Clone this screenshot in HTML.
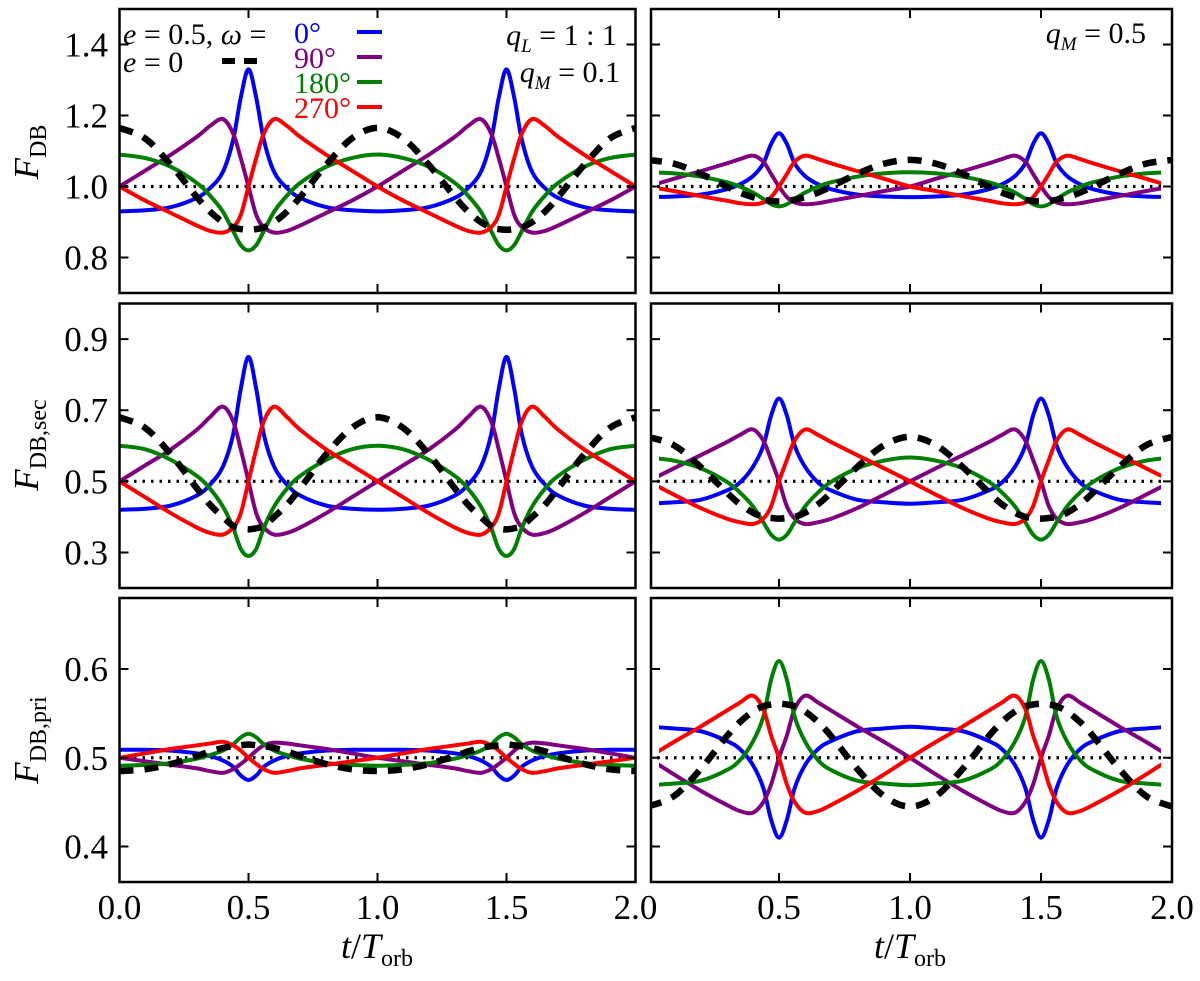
<!DOCTYPE html>
<html><head><meta charset="utf-8">
<style>
html,body{margin:0;padding:0;background:#fff;}
svg, svg text{font-family:"Liberation Serif","DejaVu Serif",serif;}
.tick{font-size:35px;fill:#000;font-family:"Liberation Serif",serif;}
</style></head>
<body>
<svg id="chart" width="1200" height="976" viewBox="0 0 1200 976" xmlns="http://www.w3.org/2000/svg" font-family="Liberation Serif, DejaVu Serif, serif">
<defs>
<clipPath id="clipL"><rect x="119.5" y="0" width="516" height="976"/></clipPath>
<clipPath id="clipR"><rect x="651" y="0" width="521" height="976"/></clipPath>
<clipPath id="clipRc"><rect x="659" y="0" width="502" height="976"/></clipPath>
</defs>
<g id="panels"></g>
<g font-size="30">
<text x="123" y="44"><tspan font-style="italic">e</tspan> = 0.5, <tspan font-style="italic">ω</tspan> =</text>
<text x="123" y="72"><tspan font-style="italic">e</tspan> = 0</text>
<line x1="222" y1="61" x2="264" y2="61" stroke="#000" stroke-width="6" stroke-dasharray="13,9"/>
<text x="294" y="43" fill="#0000ff">0°</text>
<text x="294" y="68" fill="#800080">90°</text>
<text x="294" y="93" fill="#008000">180°</text>
<text x="294" y="118" fill="#ff0000">270°</text>
<line x1="357" y1="32" x2="382" y2="32" stroke="#0000ff" stroke-width="4"/>
<line x1="357" y1="57" x2="382" y2="57" stroke="#800080" stroke-width="4"/>
<line x1="357" y1="82" x2="382" y2="82" stroke="#008000" stroke-width="4"/>
<line x1="357" y1="107" x2="382" y2="107" stroke="#ff0000" stroke-width="4"/>
<text x="617" y="45" text-anchor="end"><tspan font-style="italic">q</tspan><tspan font-size="19" font-style="italic" dy="7">L</tspan><tspan dy="-7"> = 1 : 1</tspan></text>
<text x="620" y="82" text-anchor="end"><tspan font-style="italic">q</tspan><tspan font-size="19" font-style="italic" dy="7">M</tspan><tspan dy="-7"> = 0.1</tspan></text>
<text x="1146" y="43" text-anchor="end"><tspan font-style="italic">q</tspan><tspan font-size="19" font-style="italic" dy="7">M</tspan><tspan dy="-7"> = 0.5</tspan></text>
</g>
<text transform="translate(38,152) rotate(-90)" text-anchor="middle" font-size="35"><tspan font-style="italic">F</tspan><tspan font-size="24" dy="8">DB</tspan></text>
<text transform="translate(38,445) rotate(-90)" text-anchor="middle" font-size="35"><tspan font-style="italic">F</tspan><tspan font-size="24" dy="8">DB,sec</tspan></text>
<text transform="translate(38,740) rotate(-90)" text-anchor="middle" font-size="35"><tspan font-style="italic">F</tspan><tspan font-size="24" dy="8">DB,pri</tspan></text>
<text x="377" y="958" text-anchor="middle" font-size="36"><tspan font-style="italic">t</tspan>/<tspan font-style="italic">T</tspan><tspan font-size="24" dy="8">orb</tspan></text>
<text x="910" y="958" text-anchor="middle" font-size="36"><tspan font-style="italic">t</tspan>/<tspan font-style="italic">T</tspan><tspan font-size="24" dy="8">orb</tspan></text>
</svg>
<script>
const phases = [0,0.1,0.2,0.3,0.35,0.4,0.44,0.47,0.5,0.53,0.56,0.6,0.65,0.7,0.8,0.9,1.0];
const xTicks = [0.5,1.0,1.5];
const xTickLabels = ["0.0","0.5","1.0","1.5","2.0"];
const xTickLabelVals = [0,0.5,1,1.5,2];
const yTicksTop = [0.8,1.0,1.2,1.4];
const yTicksMid = [0.3,0.5,0.7,0.9];
const yTicksBot = [0.4,0.5,0.6];

const tlBlue   = [0.93,0.933,0.942,0.968,0.995,1.04,1.13,1.25,1.33,1.25,1.13,1.04,0.995,0.968,0.942,0.933,0.93];
const tlPurple = [1.0,1.045,1.09,1.14,1.17,1.19,1.15,1.08,1.0,0.92,0.885,0.87,0.875,0.89,0.925,0.96,1.0];
const tlGreen  = [1.09,1.08,1.055,1.01,0.975,0.93,0.875,0.835,0.82,0.835,0.875,0.93,0.975,1.01,1.055,1.08,1.09];
const tlRed    = [1.0,0.96,0.925,0.89,0.875,0.87,0.885,0.92,1.0,1.08,1.15,1.19,1.17,1.14,1.09,1.045,1.0];
const tlBlack  = [1.165,1.135,1.06,0.97,0.93,0.9,0.885,0.88,0.878,0.88,0.885,0.9,0.93,0.97,1.06,1.135,1.165];
const trBlue   = [0.97,0.972,0.977,0.992,1.006,1.029,1.065,1.12,1.15,1.12,1.065,1.029,1.006,0.992,0.977,0.972,0.97];
const trPurple = [1.0,1.022,1.043,1.065,1.077,1.087,1.07,1.035,1.0,0.97,0.955,0.95,0.953,0.96,0.973,0.987,1.0];
const trGreen  = [1.04,1.037,1.028,1.012,1.0,0.983,0.965,0.95,0.944,0.95,0.965,0.983,1.0,1.012,1.028,1.037,1.04];
const trRed    = [1.0,0.987,0.973,0.96,0.953,0.95,0.955,0.97,1.0,1.035,1.07,1.087,1.077,1.065,1.043,1.022,1.0];
const trBlack  = [1.075,1.064,1.036,1.0,0.983,0.97,0.963,0.959,0.958,0.959,0.963,0.97,0.983,1.0,1.036,1.064,1.075];
const mlBlue   = [0.42,0.423,0.432,0.46,0.49,0.54,0.63,0.76,0.85,0.76,0.63,0.54,0.49,0.46,0.432,0.423,0.42];
const mlPurple = [0.5,0.545,0.59,0.645,0.68,0.71,0.67,0.59,0.5,0.41,0.37,0.35,0.355,0.37,0.41,0.455,0.5];
const mlGreen  = [0.6,0.59,0.56,0.515,0.48,0.43,0.37,0.31,0.29,0.31,0.37,0.43,0.48,0.515,0.56,0.59,0.6];
const mlRed    = [0.5,0.455,0.41,0.37,0.355,0.35,0.37,0.41,0.5,0.59,0.67,0.71,0.68,0.645,0.59,0.545,0.5];
const mlBlack  = [0.68,0.65,0.575,0.48,0.435,0.4,0.375,0.368,0.365,0.368,0.375,0.4,0.435,0.48,0.575,0.65,0.68];
const mrBlue   = [0.437,0.441,0.448,0.474,0.496,0.54,0.6,0.685,0.733,0.685,0.6,0.54,0.496,0.474,0.448,0.441,0.437];
const mrPurple = [0.5,0.537,0.573,0.61,0.63,0.646,0.615,0.56,0.5,0.43,0.395,0.38,0.385,0.395,0.425,0.462,0.5];
const mrGreen  = [0.567,0.558,0.537,0.499,0.469,0.43,0.385,0.35,0.336,0.35,0.385,0.43,0.469,0.499,0.537,0.558,0.567];
const mrRed    = [0.5,0.462,0.425,0.395,0.385,0.38,0.395,0.43,0.5,0.56,0.615,0.646,0.63,0.61,0.573,0.537,0.5];
const mrBlack  = [0.625,0.601,0.541,0.469,0.436,0.412,0.4,0.397,0.395,0.397,0.4,0.412,0.436,0.469,0.541,0.601,0.625];
const blBlue   = [0.509,0.509,0.508,0.505,0.502,0.497,0.49,0.48,0.475,0.48,0.49,0.497,0.502,0.505,0.508,0.509,0.509];
const blPurple = [0.5,0.496,0.492,0.488,0.485,0.483,0.487,0.493,0.5,0.508,0.514,0.517,0.516,0.514,0.51,0.505,0.5];
const blGreen  = [0.491,0.492,0.494,0.499,0.503,0.508,0.515,0.523,0.527,0.523,0.515,0.508,0.503,0.499,0.494,0.492,0.491];
const blRed    = [0.5,0.505,0.51,0.514,0.516,0.518,0.514,0.508,0.5,0.493,0.487,0.483,0.485,0.488,0.492,0.496,0.5];
const blBlack  = [0.485,0.487,0.493,0.502,0.507,0.511,0.513,0.514,0.515,0.514,0.513,0.511,0.507,0.502,0.493,0.487,0.485];
const brBlue   = [0.535,0.533,0.53,0.519,0.51,0.492,0.466,0.43,0.41,0.43,0.466,0.492,0.51,0.519,0.53,0.533,0.535];
const brPurple = [0.5,0.481,0.463,0.447,0.44,0.438,0.45,0.47,0.5,0.525,0.555,0.57,0.562,0.553,0.535,0.518,0.5];
const brGreen  = [0.469,0.471,0.474,0.486,0.497,0.518,0.546,0.588,0.609,0.588,0.546,0.518,0.497,0.486,0.474,0.471,0.469];
const brRed    = [0.5,0.518,0.535,0.553,0.562,0.57,0.555,0.525,0.5,0.47,0.45,0.438,0.44,0.447,0.463,0.481,0.5];
const brBlack  = [0.445,0.457,0.487,0.524,0.54,0.552,0.558,0.56,0.561,0.56,0.558,0.552,0.54,0.524,0.487,0.457,0.445];

const NS = "http://www.w3.org/2000/svg";
const root = document.getElementById('panels');
function mk(tag, attrs, parent){
  const e = document.createElementNS(NS, tag);
  for (const k in attrs) e.setAttribute(k, attrs[k]);
  parent.appendChild(e);
  return e;
}
const cols = [{x0:119.5,x1:635.5,clip:'clipL',cclip:'clipL',name:'left'},{x0:648,x1:1172,bx:651,clip:'clipR',cclip:'clipRc',name:'right'}];
const rows = [
  {y0:9,y1:293,lo:0.7,hi:1.5,ticks:yTicksTop,base:1.0,name:'top'},
  {y0:303.5,y1:588,lo:0.2,hi:1.0,ticks:yTicksMid,base:0.5,name:'middle'},
  {y0:598,y1:882,lo:0.36,hi:0.68,ticks:yTicksBot,base:0.5,name:'bottom'}
];
const data = [
  [[tlBlue,tlPurple,tlGreen,tlRed,tlBlack],[trBlue,trPurple,trGreen,trRed,trBlack]],
  [[mlBlue,mlPurple,mlGreen,mlRed,mlBlack],[mrBlue,mrPurple,mrGreen,mrRed,mrBlack]],
  [[blBlue,blPurple,blGreen,blRed,blBlack],[brBlue,brPurple,brGreen,brRed,brBlack]]
];
const colors = ['#0000ff','#800080','#008000','#ff0000','#000'];
const sNames = ['omega-0','omega-90','omega-180','omega-270','circular'];

function pathFrom(pts){
  let d = 'M'+pts[0][0].toFixed(2)+','+pts[0][1].toFixed(2);
  for (let i=0;i<pts.length-1;i++){
    const p0=pts[Math.max(0,i-1)], p1=pts[i], p2=pts[i+1], p3=pts[Math.min(pts.length-1,i+2)];
    const c1x=p1[0]+(p2[0]-p0[0])/6, c1y=p1[1]+(p2[1]-p0[1])/6;
    const c2x=p2[0]-(p3[0]-p1[0])/6, c2y=p2[1]-(p3[1]-p1[1])/6;
    d+='C'+c1x.toFixed(2)+','+c1y.toFixed(2)+' '+c2x.toFixed(2)+','+c2y.toFixed(2)+' '+p2[0].toFixed(2)+','+p2[1].toFixed(2);
  }
  return d;
}

rows.forEach((r,ri)=>{
  cols.forEach((c,ci)=>{
    const xs = t => c.x0 + (c.x1-c.x0)*t/2;
    const ys = v => r.y1 - (r.y1-r.y0)*(v-r.lo)/(r.hi-r.lo);
    const g = mk('g',{},root);
    
    
    const bl = mk('line',{x1:(c.bx||c.x0)+6,x2:c.x1-6,y1:ys(r.base),y2:ys(r.base),stroke:'#000','stroke-width':3.2,'stroke-dasharray':'2.5,6'},g);
    
    
    data[ri][ci].forEach((arr,si)=>{
      const pts=[];
      for (let cyc=0;cyc<2;cyc++){
        phases.forEach((p,k)=>{ if(cyc===1 && k===0) return; pts.push([xs(p+cyc), ys(arr[k])]); });
      }
      const isBlack = si===4;
      const pa = mk('path',{d:pathFrom(pts),fill:'none',stroke:colors[si],'stroke-width':isBlack?6.5:4,'stroke-linejoin':'round',
        'clip-path':'url(#'+(isBlack?c.clip:c.cclip)+')'},g);
      if (isBlack) pa.setAttribute('stroke-dasharray','14,11');
      
      
    });
    const bx = c.bx||c.x0;
    const fr = mk('rect',{x:bx,y:r.y0,width:c.x1-bx,height:r.y1-r.y0,fill:'none',stroke:'#000','stroke-width':2.5},g);
    
    
    xTicks.forEach(t=>{
      const tk = mk('path',{d:'M'+xs(t)+','+r.y1+'v-9M'+xs(t)+','+r.y0+'v9',stroke:'#000','stroke-width':2},g);
      
      
    });
    r.ticks.forEach(v=>{
      const tk = mk('path',{d:'M'+bx+','+ys(v)+'h9M'+c.x1+','+ys(v)+'h-9',stroke:'#000','stroke-width':2},g);
      
      
      if (ci===0){
        const tl = mk('text',{x:108,y:ys(v)+12,'text-anchor':'end','class':'tick'},g);
        tl.textContent = v.toFixed(1);
        
        
      }
    });
    if (ri===2){
      xTickLabelVals.forEach((t,k)=>{
        if (ci===1 && k===0) return;
        const tl = mk('text',{x:xs(t),y:919,'text-anchor':'middle','class':'tick'},g);
        tl.textContent = xTickLabels[k];
        
        
      });
    }
  });
});
</script>
</body></html>
